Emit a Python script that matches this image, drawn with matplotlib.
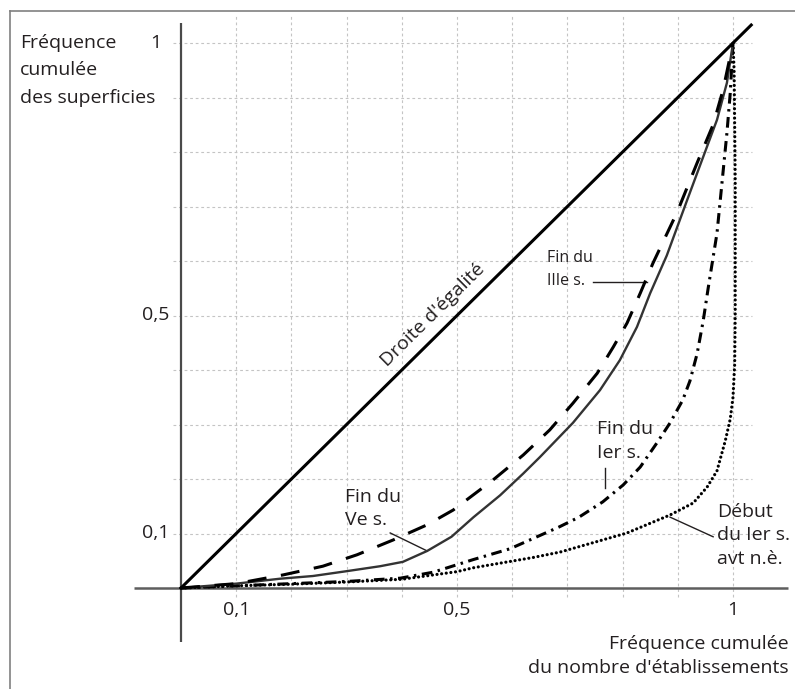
import matplotlib
matplotlib.use("Agg")
import matplotlib.pyplot as plt
from matplotlib.lines import Line2D

plt.rcParams["font.family"] = ["Open Sans", "DejaVu Sans"]

# ========= DATA =========
# Fin du IIIe s. (dashed)
iii_x = [0, 0.10, 0.185, 0.257, 0.319, 0.384, 0.446, 0.493, 0.565, 0.620, 0.668,
         0.710, 0.754, 0.783, 0.808, 0.832, 0.855, 0.899, 0.935, 0.964, 0.982, 1.0]
iii_y = [0, 0.008, 0.024, 0.040, 0.061, 0.088, 0.116, 0.143, 0.198, 0.244, 0.290,
         0.339, 0.394, 0.442, 0.486, 0.541, 0.596, 0.690, 0.780, 0.850, 0.914, 1.0]

# Fin du Ve s. (solid grey)
v_x = [0, 0.10, 0.179, 0.239, 0.301, 0.361, 0.402, 0.446, 0.49, 0.53, 0.578, 0.62,
       0.650, 0.710, 0.759, 0.795, 0.826, 0.850, 0.880, 0.917, 0.946, 0.971, 0.989, 1.0]
v_y = [0, 0.008, 0.017, 0.022, 0.031, 0.040, 0.048, 0.068, 0.094, 0.130, 0.170, 0.21,
       0.240, 0.303, 0.363, 0.418, 0.479, 0.541, 0.610, 0.712, 0.791, 0.859, 0.927, 1.0]

# Fin du Ier s. (dash-dot)
i_x = [0, 0.10, 0.20, 0.30, 0.397, 0.457, 0.529, 0.596, 0.685, 0.721, 0.764, 0.801,
       0.832, 0.862, 0.886, 0.909, 0.922, 0.935, 0.946, 0.955, 0.971, 0.980, 0.989, 0.995, 1.0]
i_y = [0, 0.004, 0.008, 0.012, 0.018, 0.029, 0.052, 0.072, 0.112, 0.130, 0.158, 0.189,
       0.222, 0.266, 0.303, 0.345, 0.38, 0.43, 0.49, 0.55, 0.651, 0.743, 0.835, 0.908, 1.0]

# Debut du Ier s. avt n.e. (dotted)
bc_x = [0, 0.1, 0.2, 0.3, 0.4, 0.5, 0.529, 0.638, 0.687, 0.746, 0.808, 0.886, 0.928,
        0.953, 0.971, 0.986, 0.995, 1.0, 1.003, 1.004, 1.004, 1.002, 1.0]
bc_y = [0, 0.004, 0.007, 0.011, 0.016, 0.030, 0.037, 0.056, 0.066, 0.083, 0.101, 0.134, 0.156,
        0.185, 0.215, 0.27, 0.31, 0.35, 0.41, 0.5, 0.75, 0.95, 1.0]

# equality line, drawn a little past (1, 1)
eq_x = [0, 1.033]
eq_y = [0, 1.033]

GRID = [0.1, 0.2, 0.3, 0.4, 0.5, 0.6, 0.7, 0.8, 0.9, 1.0]
X_TICKS = [0.1, 0.5, 1.0]
X_TICK_LABELS = ["0,1", "0,5", "1"]
Y_TICKS = [0.1, 0.5, 1.0]
Y_TICK_LABELS = ["0,1", "0,5", "1"]
Y_TITLE = ["Fréquence", "cumulée", "des superficies"]

# ========= LAYOUT =========
W, H = 795, 689
ORIGIN = (181, 588)      # pixel of (0, 0)
UNIT = (552, 545)        # pixels per data unit
TXT = "#231f20"
FS = 14


def main():
    fig = plt.figure(figsize=(W / 100, H / 100), dpi=100)
    ax = fig.add_axes([0, 0, 1, 1])
    ax.set_xlim(-ORIGIN[0] / UNIT[0], (W - ORIGIN[0]) / UNIT[0])
    ax.set_ylim((ORIGIN[1] - H) / UNIT[1], ORIGIN[1] / UNIT[1])
    ax.axis("off")

    # grid
    grid_kw = dict(color="#c4c4c4", lw=0.8, linestyle=(0, (2.5, 2.5)), zorder=1)
    ax.vlines(GRID, -0.017, 1.051, **grid_kw)
    ax.hlines(GRID, -0.015, 1.035, **grid_kw)

    # axes lines
    ax.plot([-0.085, 1.1], [0, 0], color="#5e5e5e", lw=1.8, zorder=2, solid_capstyle="butt")
    ax.plot([0, 0], [-0.099, 1.037], color="#4a4a4a", lw=1.6, zorder=2, solid_capstyle="butt")

    # curves
    ax.plot(eq_x, eq_y, color="black", lw=2.2, zorder=5)
    ax.plot(bc_x, bc_y, color="black", lw=2.3, dashes=(0.01, 1.45),
            dash_capstyle="round", zorder=4)
    ax.plot(i_x, i_y, color="black", lw=2.2, dashes=(3.5, 1.8, 0.8, 1.8), zorder=4)
    ax.plot(v_x, v_y, color="#333333", lw=1.7, zorder=4)
    ax.plot(iii_x, iii_y, color="black", lw=2.2, dashes=(6.2, 4.8), zorder=4)

    # tick labels
    for x, lab in zip(X_TICKS, X_TICK_LABELS):
        ax.text(x, -0.040, lab, ha="center", va="center", fontsize=FS, color=TXT)
    for y, lab in zip(Y_TICKS, Y_TICK_LABELS):
        ax.text(-0.046, y, lab, ha="center", va="center", fontsize=FS, color=TXT)

    # annotations
    ax.text(0.4565, 0.501, "Droite d'égalité", rotation=45, transform_rotates_text=True,
            rotation_mode="anchor", ha="center", va="center", fontsize=FS, color=TXT)

    ax.text(0.663, 0.584, "Fin du\nIIIe s.", ha="left", va="center", fontsize=11.5,
            linespacing=1.55, color=TXT)
    ax.plot([0.746, 0.844], [0.561, 0.561], color=TXT, lw=1.0)

    ax.text(0.297, 0.146, "Fin du\nVe s.", ha="left", va="center", fontsize=FS,
            linespacing=1.4, color=TXT)
    ax.plot([0.379, 0.446], [0.101, 0.068], color=TXT, lw=1.0)

    ax.text(0.754, 0.270, "Fin du\nIer s.", ha="left", va="center", fontsize=FS,
            linespacing=1.4, color=TXT)
    ax.plot([0.768, 0.768], [0.220, 0.183], color=TXT, lw=1.0)

    ax.text(0.971, 0.097, "Début\ndu Ier s.\navt n.è.", ha="left", va="center", fontsize=FS,
            linespacing=1.4, color=TXT)
    ax.plot([0.886, 0.964], [0.130, 0.094], color=TXT, lw=1.0)

    # axis titles (y title one line at a time, as in the original)
    for line, py in zip(Y_TITLE, [43, 70, 98]):
        fig.text(20 / W, 1 - py / H, line, ha="left", va="center", fontsize=FS, color=TXT)
    fig.text(789 / W, 1 - 656 / H, "Fréquence cumulée\ndu nombre d'établissements",
             ha="right", va="center", multialignment="right", fontsize=FS,
             linespacing=1.4, color=TXT)

    # outer frame (cropped box)
    fig.add_artist(Line2D([10 / W, 1], [1 - 11 / H, 1 - 11 / H], color="#808080", lw=1.2))
    fig.add_artist(Line2D([10 / W, 10 / W], [0, 1 - 11 / H], color="#808080", lw=1.2))

    fig.savefig("out.png", dpi=100)
    plt.close(fig)


if __name__ == "__main__":
    main()
